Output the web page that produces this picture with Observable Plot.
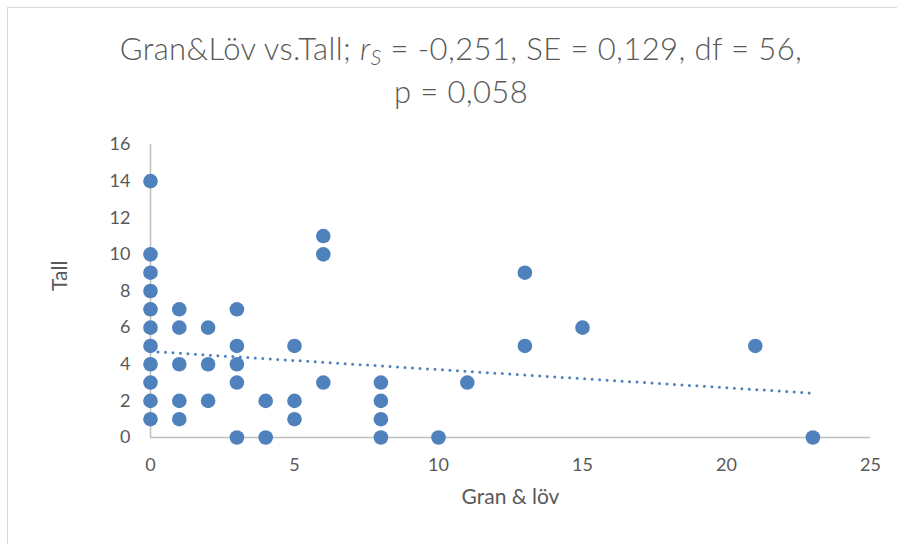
<!DOCTYPE html>
<html>
<head>
<meta charset="utf-8">
<script src="https://cdn.jsdelivr.net/npm/d3@7"></script>
<script src="https://cdn.jsdelivr.net/npm/@observablehq/plot@0.6"></script>
<style>
  html, body { margin: 0; padding: 0; background: #fff; }
  #wrap { position: relative; width: 897px; height: 544px; overflow: hidden; font-family: Lato, "Open Sans", sans-serif; }
  #frame { position: absolute; left: 7px; top: 7px; width: 900px; height: 560px; border-top: 1.5px solid #d9d9d9; border-left: 1.5px solid #d9d9d9; pointer-events: none; }
  #title { position: absolute; left: 0; top: 0; width: 922px; height: 120px; text-align: center; color: #595959; font-size: 31px; letter-spacing: 0.4px; line-height: 43px; padding-top: 27px; box-sizing: border-box; font-weight: 300; }
  #title sub { font-size: 0.7em; vertical-align: -0.25em; line-height: 0; }
  #chart { position: absolute; left: 0; top: 120px; }
</style>
</head>
<body>
<div id="wrap">
  <div id="frame"></div>
  <div id="title">Gran&amp;Löv vs.Tall; <i>r<sub>S</sub></i> = -0,251, SE = 0,129, df = 56,<br>p = 0,058</div>
  <div id="chart"></div>
</div>
<script>
// Data
const granLov = [0,0,0,0,0,0,0,0,0,0,0, 1,1,1,1,1, 2,2,2, 3,3,3,3,3, 4,4, 5,5,5, 6,6,6, 8,8,8,8, 10, 11, 13,13, 15, 21, 23];
const tall    = [14,10,9,8,7,6,5,4,3,2,1, 7,6,4,2,1, 6,4,2, 7,5,4,3,0, 2,0, 5,2,1, 11,10,3, 3,2,1,0, 0, 3, 9,5, 6, 5, 0];
// Linear trendline endpoints
const trendX = [0, 23];
const trendY = [4.70, 2.42];
const xTicks = [0, 5, 10, 15, 20, 25];
const yTicks = [0, 2, 4, 6, 8, 10, 12, 14, 16];
const xLabel = "Gran & löv";
const yLabel = "Tall";

const points = granLov.map((g, i) => ({x: g, y: tall[i]}));
const trend = trendX.map((x, i) => ({x, y: trendY[i]}));

const plot = Plot.plot({
  width: 897,
  height: 424,
  marginLeft: 150,
  marginRight: 27,
  marginTop: 24,
  marginBottom: 107,
  style: {fontFamily: "Lato, 'Open Sans', sans-serif", fontSize: "18px", color: "#595959", background: "transparent"},
  x: {domain: [0, 25]},
  y: {domain: [0, 16]},
  marks: [
    Plot.ruleY([0], {stroke: "#bfbfbf", strokeWidth: 1.5}),
    Plot.ruleX([0], {stroke: "#bfbfbf", strokeWidth: 1.5}),
    Plot.axisX({ticks: xTicks, tickSize: 0, tickPadding: 21, label: null, fill: "#595959"}),
    Plot.axisY({ticks: yTicks, tickSize: 0, tickPadding: 20, label: null, fill: "#595959"}),
    Plot.line(trend, {x: "x", y: "y", stroke: "#4f81bd", strokeWidth: 3, strokeDasharray: "0 7.5", strokeLinecap: "round"}),
    Plot.dot(points, {x: "x", y: "y", r: 7.3, fill: "#4f81bd", stroke: "none"}),
    Plot.text([xLabel], {frameAnchor: "bottom", dy: 66, text: d => d, fontSize: 21, fill: "#595959"}),
    Plot.text([yLabel], {frameAnchor: "left", dx: -90, rotate: -90, text: d => d, fontSize: 21, fill: "#595959"})
  ]
});
document.getElementById("chart").appendChild(plot);
</script>
</body>
</html>
